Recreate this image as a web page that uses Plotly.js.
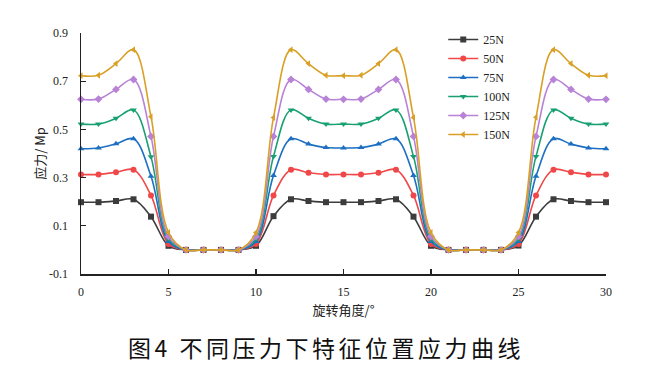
<!DOCTYPE html>
<html>
<head>
<meta charset="utf-8">
<script src="https://cdn.plot.ly/plotly-3.0.1.min.js"></script>
<style>html,body{margin:0;padding:0;background:#fff;}#chart{width:652px;height:371px;}
#chart .gtitle{letter-spacing:3.5px;}</style>
</head>
<body>
<div id="chart"></div>
<script>
var angles = [0,1,2,3,4,5,6,7,8,9,10,11,12,13,14,15,16,17,18,19,20,21,22,23,24,25,26,27,28,29,30];
var seriesNames = ['25N','50N','75N','100N','125N','150N'];
var s25N  = [0.198,0.198,0.203,0.210,0.138,0.017,0,0,0,0,0.017,0.140,0.210,0.203,0.198,0.198,0.198,0.203,0.210,0.138,0.017,0,0,0,0,0.018,0.138,0.210,0.203,0.198,0.198];
var s50N  = [0.313,0.313,0.322,0.333,0.226,0.025,0,0,0,0,0.025,0.226,0.333,0.320,0.313,0.313,0.313,0.320,0.333,0.226,0.025,0,0,0,0,0.025,0.226,0.333,0.322,0.313,0.313];
var s75N  = [0.420,0.423,0.440,0.461,0.306,0.035,0,0,0,0,0.035,0.309,0.461,0.439,0.425,0.423,0.425,0.439,0.461,0.309,0.035,0,0,0,0,0.035,0.306,0.461,0.439,0.423,0.420];
var s100N = [0.522,0.522,0.546,0.581,0.386,0.046,0,0,0,0,0.046,0.388,0.581,0.546,0.522,0.522,0.522,0.546,0.581,0.388,0.046,0,0,0,0,0.046,0.388,0.581,0.546,0.522,0.522];
var s125N = [0.625,0.626,0.666,0.707,0.471,0.056,0,0,0,0,0.056,0.471,0.707,0.666,0.626,0.625,0.626,0.666,0.707,0.471,0.056,0,0,0,0,0.056,0.471,0.707,0.666,0.626,0.625];
var s150N = [0.723,0.725,0.773,0.831,0.553,0.072,0,0,0,0,0.072,0.549,0.831,0.773,0.725,0.723,0.725,0.773,0.831,0.549,0.072,0,0,0,0,0.072,0.550,0.831,0.773,0.725,0.723];
var seriesValues = [s25N, s50N, s75N, s100N, s125N, s150N];
var colors = ['#3c3c3c','#f04848','#1c6fc2','#18a070','#b882d6','#d9a026'];
var symbols = ['square','circle','triangle-up','triangle-down','diamond','triangle-left'];
var yTicks = [-0.1,0.1,0.3,0.5,0.7,0.9];
var yTickText = ['-0.1','0.1','0.3','0.5','0.7','0.9'];
var xTicks = [0,5,10,15,20,25,30];

var traces = seriesNames.map(function(n,i){
  return {
    x: angles, y: seriesValues[i], name: n, type: 'scatter', mode: 'lines+markers',
    line: {color: colors[i], width: 1.6, shape: 'spline', smoothing: 1},
    marker: {symbol: symbols[i], size: 6, color: colors[i]},
    cliponaxis: false
  };
});

var serif = 'Liberation Serif, Times New Roman, serif';
var layout = {
  width: 652, height: 371,
  margin: {l: 81, r: 46, t: 33, b: 97},
  paper_bgcolor: '#fff', plot_bgcolor: '#fff',
  showlegend: true,
  legend: {x: 0.69, xanchor: 'left', y: 0.776, yanchor: 'middle',
    font: {family: serif, size: 12, color: '#222'}, bgcolor: 'rgba(0,0,0,0)', tracegroupgap: 0},
  xaxis: {range: [0,30], tickvals: xTicks, ticks: 'inside', ticklen: 5, tickwidth: 1.2, tickcolor: '#222',
    showline: true, linecolor: '#222', linewidth: 1.5, showgrid: false, zeroline: false,
    ticklabelstandoff: 6,
    tickfont: {family: serif, size: 12, color: '#222'},
    title: {text: '旋转角度/°', font: {family: 'Noto Sans CJK SC, serif', size: 13, color: '#222'}, standoff: 8}},
  yaxis: {range: [-0.1,0.9], tickvals: yTicks, ticktext: yTickText, ticks: 'inside', ticklen: 5, tickwidth: 1.2, tickcolor: '#222',
    showline: true, linecolor: '#222', linewidth: 1.5, showgrid: false, zeroline: false,
    ticklabelstandoff: 9,
    tickfont: {family: serif, size: 12, color: '#222'},
    title: {text: '应力/ Mp', font: {family: 'Noto Sans CJK SC, serif', size: 13, color: '#222'}, standoff: 0}},
  title: {text: '图4 不同压力下特征位置应力曲线', x: 0.5, xref: 'container', xanchor: 'center',
    y: 0.059, yref: 'container', yanchor: 'middle',
    font: {family: 'Noto Sans CJK SC, sans-serif', size: 23, color: '#111'}}
};

Plotly.newPlot('chart', traces, layout, {staticPlot: true, displayModeBar: false});
</script>
</body>
</html>
